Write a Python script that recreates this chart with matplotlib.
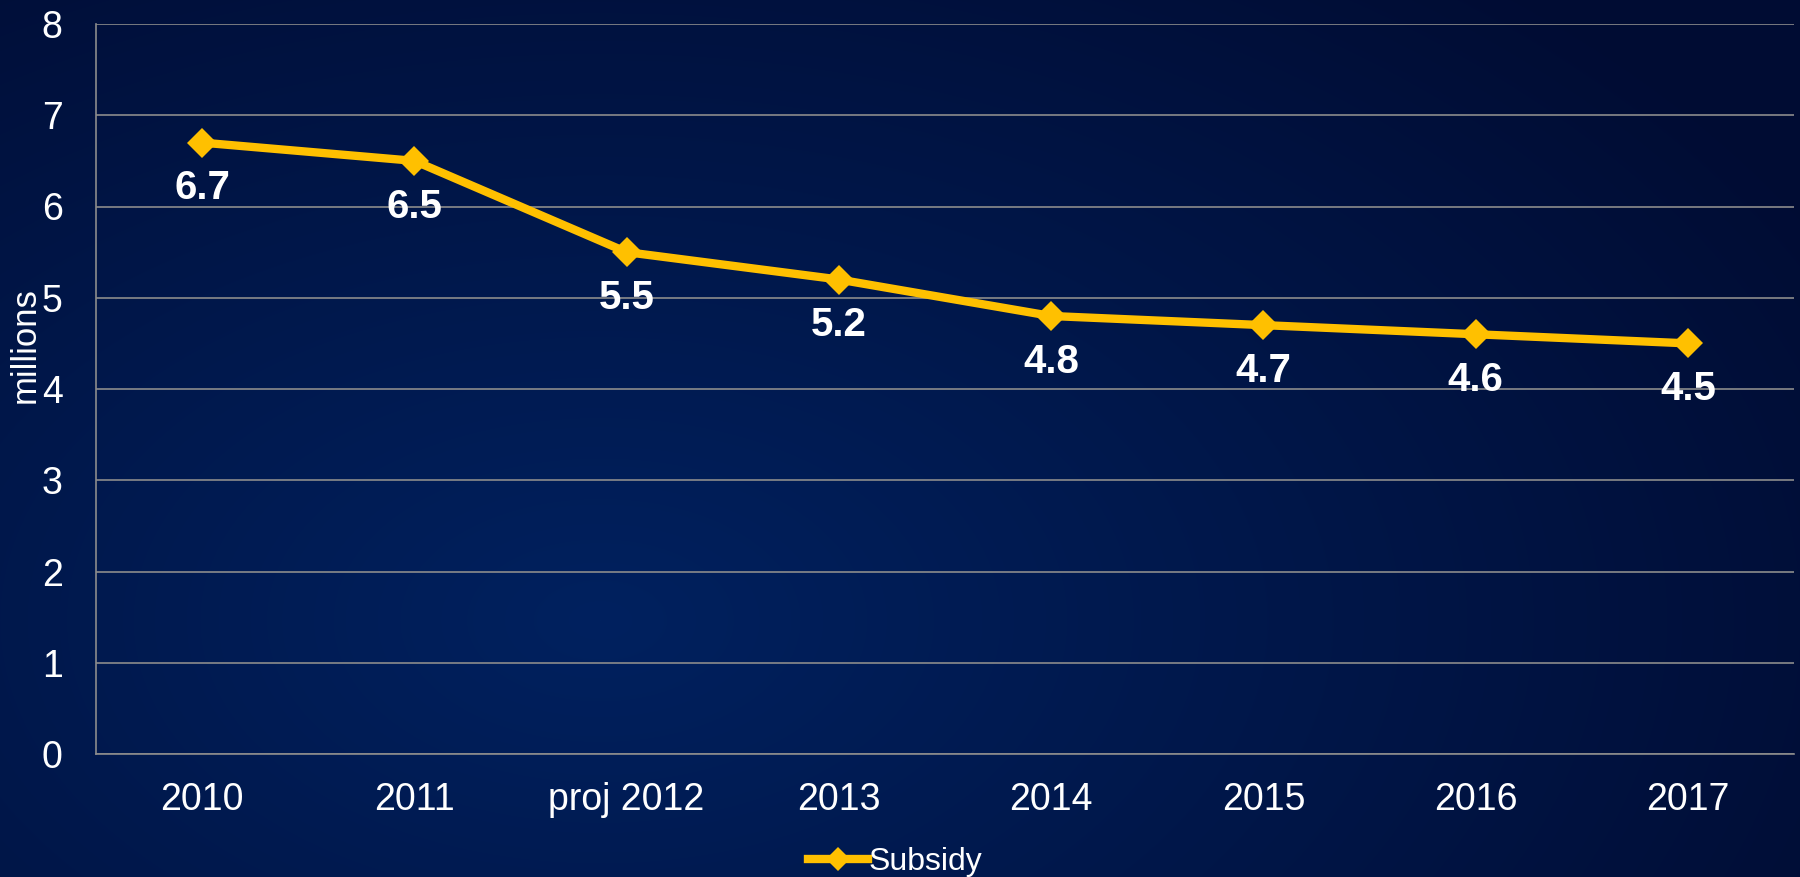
import numpy as np
import matplotlib
matplotlib.use("Agg")
import matplotlib.pyplot as plt
from matplotlib.colors import to_rgb

categories = ["2010", "2011", "proj 2012", "2013", "2014", "2015", "2016", "2017"]
subsidy = [6.7, 6.5, 5.5, 5.2, 4.8, 4.7, 4.6, 4.5]
yticks = [0, 1, 2, 3, 4, 5, 6, 7, 8]
series_name = "Subsidy"
ylabel = "millions"

plt.rcParams['font.family'] = ['Liberation Sans', 'DejaVu Sans']

W, H = 1800, 877
fig = plt.figure(figsize=(18, 8.77), dpi=100)

# background gradient
bg = fig.add_axes([0, 0, 1, 1], zorder=-10)
yy, xx = np.mgrid[0:H, 0:W]
cx, cy = 600, 620
d = np.sqrt(((xx - cx) / 1400.0) ** 2 + ((yy - cy) / 850.0) ** 2)
t = np.clip(d, 0, 1)
light = np.array(to_rgb("#00215f"))
dark = np.array(to_rgb("#000c33"))
img = light[None, None, :] * (1 - t[..., None]) + dark[None, None, :] * t[..., None]
bg.imshow(img, aspect="auto", extent=[0, W, H, 0])
bg.set_axis_off()

ax = fig.add_axes([96 / W, 1 - 754 / H, (1794 - 96) / W, (754 - 24) / H])
ax.patch.set_alpha(0)
x = np.arange(len(categories))
line, = ax.plot(x, subsidy, color="#FFC000", lw=6, marker="D", markersize=15,
                markeredgewidth=0, solid_joinstyle="miter", label=series_name, zorder=3)
for xi, v in zip(x, subsidy):
    ax.annotate(f"{v}", (xi, v), xytext=(0, -33), textcoords="offset points",
                ha="center", va="center", color="white", fontsize=29, fontweight="bold", zorder=4)

ax.set_xlim(-0.5, len(categories) - 0.5)
ax.set_ylim(0, 8)
ax.set_yticks(yticks)
ax.set_xticks(x)
ax.set_xticklabels(categories)
ax.tick_params(axis="both", length=0, colors="white", labelsize=27)
ax.tick_params(axis="y", pad=24)
ax.tick_params(axis="x", pad=20)
ax.grid(axis="y", color="#8c8c8c", lw=1.2)
ax.set_axisbelow(True)
for s in ["top", "right"]:
    ax.spines[s].set_visible(False)
for s in ["left", "bottom"]:
    ax.spines[s].set_color("#8c8c8c")
    ax.spines[s].set_linewidth(1.2)
fig.text(25 / W, 1 - 345 / H, ylabel, rotation=90, color="white", fontsize=25,
         ha="center", va="center")

leg = fig.legend(handles=[line], loc="center", bbox_to_anchor=(895 / W, 1 - 862 / H),
                 frameon=False, fontsize=23, handlelength=1.9, handletextpad=0.0,
                 borderpad=0, borderaxespad=0)
for t_ in leg.get_texts():
    t_.set_color("white")
leg.legend_handles[0].set_markersize(12)

fig.savefig("out.png", dpi=100)
